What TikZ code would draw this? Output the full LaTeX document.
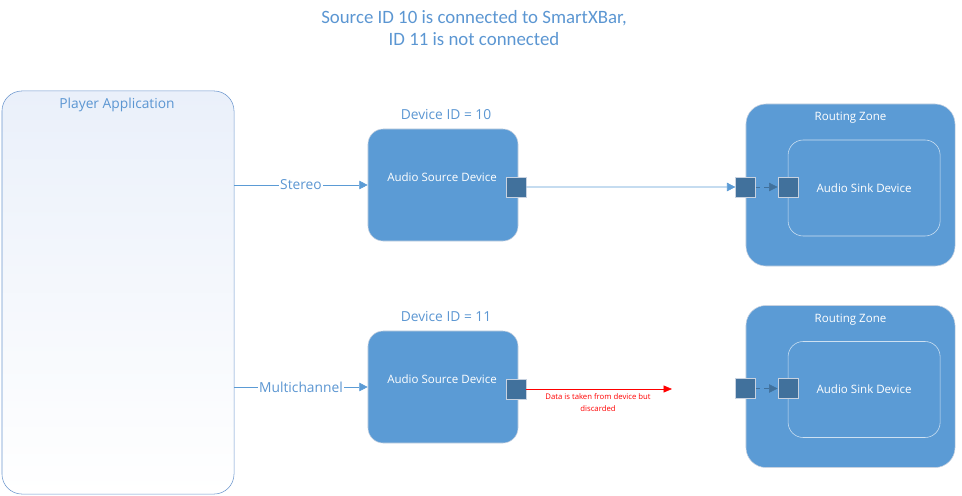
\documentclass[tikz,border=0pt]{standalone}
\usepackage{fontspec}
\setmainfont{Carlito}
\newfontfamily\uifont{Open Sans}
\usetikzlibrary{arrows.meta,positioning}
\definecolor{zoneblue}{RGB}{91,155,213}
\definecolor{portblue}{RGB}{65,113,156}
\definecolor{edgegray}{RGB}{200,210,224}
\definecolor{appedge}{RGB}{110,152,206}
\definecolor{appfill}{RGB}{234,240,250}
\definecolor{labelblue}{RGB}{91,150,210}

\begin{document}
\begin{tikzpicture}[x=0.025cm,y=-0.025cm,
  app/.style={draw=appedge,top color=appfill,bottom color=white,rounded corners=0.5cm,
    minimum width=5.8cm,minimum height=10.075cm},
  dev/.style={draw=edgegray,fill=zoneblue,rounded corners=0.38cm,
    minimum width=3.75cm,minimum height=2.8cm},
  zone/.style={draw=edgegray,fill=zoneblue,rounded corners=0.5cm,
    minimum width=5.225cm,minimum height=4.05cm},
  sink/.style={draw=white!70!zoneblue,rounded corners=0.38cm,
    minimum width=3.8cm,minimum height=2.4cm,text=white,font=\uifont\fontsize{8.2}{10}\selectfont},
  port/.style={draw=edgegray,fill=portblue,minimum size=0.5cm,inner sep=0pt},
  whitetext/.style={text=white,font=\uifont\fontsize{8.2}{10}\selectfont},
  bluetext/.style={text=labelblue,font=\uifont\fontsize{9.8}{12}\selectfont},
  flow/.style={draw=zoneblue,-{Triangle[length=6pt,width=6pt]}},
  inner flow/.style={draw=portblue,dashed,-{Triangle[length=6pt,width=6pt]}},
  lost/.style={draw=red,-{Triangle[length=6pt,width=5pt]}},
  lost text/.style={text=red,align=center,font=\uifont\fontsize{5.5}{8.5}\selectfont}]
\useasboundingbox (0,0) rectangle (962,495);

% heading
\node[text=labelblue,align=center,font=\fontsize{13.4}{15.6}\selectfont] (head) at (474,28)
  {Source ID 10 is connected to SmartXBar,\\ID 11 is not connected};

% player
\node[app] (player) at (118,292.5) {};
\node[bluetext] (playertitle) at (117,105) {Player Application};

% source devices
\node[dev] (src1) at (443,185) {};
\node[whitetext] (src1text) at (442,177) {Audio Source Device};
\node[bluetext] (id1) at (446,115) {Device ID = 10};
\node[port] (p1) at (516,187) {};

\node[dev] (src2) at (443,387) {};
\node[whitetext] (src2text) at (442,379) {Audio Source Device};
\node[bluetext] (id2) at (446,317) {Device ID = 11};
\node[port] (p2) at (516,389) {};

% routing zones
\foreach \n/\y in {1/185,2/386.5}{
\node[zone] (zone\n) at (850.5,\y) {};
\node[whitetext] (zonetext\n) at ([yshift=-0.35cm]zone\n.north) {Routing Zone};
\node[sink] (sink\n) at ([xshift=0.34cm,yshift=-0.075cm]zone\n.center) {Audio Sink Device};
\node[port] (zin\n) at ([yshift=-0.05cm]zone\n.west) {};
\node[port] (sin\n) at (zin\n -| sink\n.west) {};
\draw[inner flow] (zin\n) -- (sin\n);
}

% streams
\draw[flow] (player.east |- src1.west) -- node[fill=white,inner sep=1pt,bluetext]{Stereo} (src1.west);
\draw[flow] (player.east |- 0,387) -- node[fill=white,inner sep=1pt,bluetext]{Multichannel} (src2.west);
\draw[flow] (p1.east) -- (zin1.west);

\coordinate (drop) at (672,389);
\draw[lost] (p2.east) -- (drop);
\node[lost text] (droptext) at (598,403) {Data is taken from device but\\discarded};
\end{tikzpicture}
\end{document}
